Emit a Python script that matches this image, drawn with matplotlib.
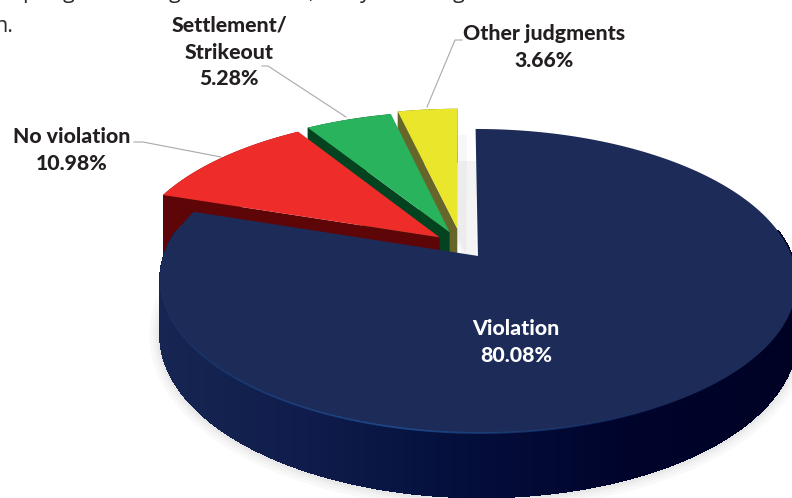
import numpy as np
import matplotlib
matplotlib.use("Agg")
import matplotlib.pyplot as plt
from matplotlib.collections import PolyCollection, LineCollection

labels = ["Violation", "No violation", "Settlement/\nStrikeout", "Other judgments"]
shares = [80.08, 10.98, 5.28, 3.66]

top_colors = ["#1c2b58", "#ee2d2b", "#29b35c", "#e9e62c"]
wall_colors = ["#101d4a", "#5e0508", "#03431f", "#66662a"]

# disc projection, fitted by eye to the picture (pixel units)
CX, CY, A, B, K = 461.4, 245.3, 310.0, 144.4, 0.1626
DEPTH = 53.0
EXPLODE = [0.09, 0.09, 0.10, 0.118]

plt.rcParams["font.family"] = ["Lato", "DejaVu Sans"]
fig = plt.figure(figsize=(7.92, 4.98), dpi=100)
ax = fig.add_axes([0, 0, 1, 1])
ax.set_xlim(0, 792)
ax.set_ylim(498, 0)
ax.axis("off")


def project(u, v, drop=0.0):
    w = 1 - K * v
    return CX + A * u / w, CY + B * v / w + drop * DEPTH / w


def wedge_outline(a0, a1, off, drop=0.0, n=160):
    # clockwise angles from the top, in radians, apex included
    t = np.linspace(a0, a1, n)
    u = np.r_[off[0], off[0] + np.sin(t)]
    v = np.r_[off[1], off[1] - np.cos(t)]
    return np.column_stack(project(u, v, drop))


# cumulative angles, clockwise from 12 o'clock
edges = np.r_[0, np.cumsum(shares)] / np.sum(shares) * 2 * np.pi
mids = (edges[:-1] + edges[1:]) / 2
offsets = [(e * np.sin(m), -e * np.cos(m)) for e, m in zip(EXPLODE, mids)]

# soft shadows
t = np.linspace(np.radians(60), np.radians(300), 300)
sx, sy = project(offsets[0][0] + np.sin(t), offsets[0][1] - np.cos(t), 1.0)
for lw in (16, 11, 7, 4):
    ax.plot(sx, sy + 1, color="black", alpha=0.025, lw=lw, zorder=1, solid_capstyle="round")
ys = wedge_outline(edges[3], edges[4], offsets[3])
ax.fill(ys[:, 0] + 19, ys[:, 1] + 52, color="#000000", alpha=0.045, lw=0, zorder=1)
ax.fill(ys[:, 0] + 9, ys[:, 1] + 26, color="#000000", alpha=0.03, lw=0, zorder=1)

# back slices drawn first: yellow, green, red
for i in (3, 2, 1):
    a0, a1 = edges[i], edges[i + 1]
    off = offsets[i]
    z = 6 - i
    # cut face along the leading edge
    px, py = project(off[0] + np.sin(a0), off[1] - np.cos(a0))
    qx, qy = project(off[0] + np.sin(a0), off[1] - np.cos(a0), 1.2)
    ax0, ay0 = project(off[0], off[1])
    ax1, ay1 = project(off[0], off[1], 1.2)
    ax.fill([ax0, px, qx, ax1], [ay0, py, qy, ay1], color=wall_colors[i], lw=0, zorder=z)
    # outer rim of the slice
    t = np.linspace(a0, a1, 60)
    ox, oy = project(off[0] + np.sin(t), off[1] - np.cos(t))
    bx, by = project(off[0] + np.sin(t), off[1] - np.cos(t), 1.2)
    ax.fill(np.r_[ox, bx[::-1]], np.r_[oy, by[::-1]], color=wall_colors[i], lw=0, zorder=z)
    face = wedge_outline(a0, a1, off)
    ax.fill(face[:, 0], face[:, 1], color=top_colors[i], lw=0, zorder=z)

# big slice: rim strips shaded by horizontal position
off = offsets[0]
t = np.linspace(np.radians(80), np.radians(280), 400)
ox, oy = project(off[0] + np.sin(t), off[1] - np.cos(t))
bx, by = project(off[0] + np.sin(t), off[1] - np.cos(t), 1.0)
stops_x = [160, 300, 430, 620, 792]
stops_rgb = np.array([[0x16, 0x25, 0x52], [0x10, 0x1d, 0x4c], [0x05, 0x11, 0x3e],
                      [0x00, 0x04, 0x2c], [0x00, 0x02, 0x24]]) / 255
strips, strip_colors = [], []
for j in range(len(t) - 1):
    strips.append([(ox[j], oy[j]), (ox[j + 1], oy[j + 1]), (bx[j + 1], by[j + 1]), (bx[j], by[j])])
    xm = (ox[j] + ox[j + 1]) / 2
    strip_colors.append([np.interp(xm, stops_x, stops_rgb[:, c]) for c in range(3)])
ax.add_collection(PolyCollection(strips, facecolors=strip_colors, edgecolors=strip_colors,
                                 lw=1.0, antialiaseds=False, zorder=7))

face = wedge_outline(edges[0], edges[1], off, n=400)
ax.fill(face[:, 0], face[:, 1], color=top_colors[0], lw=0, zorder=8)

# lighter rim line along the front edge
t = np.linspace(np.radians(130), np.radians(282), 200)
hx, hy = project(off[0] + np.sin(t), off[1] - np.cos(t))
segs = [[(hx[j], hy[j]), (hx[j + 1], hy[j + 1])] for j in range(len(t) - 1)]
fade = np.clip(np.interp(hx[:-1], [165, 260, 400, 560, 680], [0.15, 0.55, 0.9, 0.45, 0.0]), 0, 1)
seg_colors = [(0.12, 0.30, 0.56, f) for f in fade]
ax.add_collection(LineCollection(segs, colors=seg_colors, lw=1.3, zorder=9))

# leader lines
leader = dict(color="#a9a9a9", lw=0.8, zorder=9)
ax.plot([134, 143, 221], [142, 142, 157], **leader)
ax.plot([262, 268, 346], [66, 66, 117], **leader)
ax.plot([462, 455, 427], [40, 40, 107], **leader)

# data labels
ink = "#231f20"
lab = dict(fontsize=15.3, fontweight="black", color=ink, ha="center", va="center", zorder=10, linespacing=1.48)
ax.text(72, 150, f"{labels[1]}\n{shares[1]:.2f}%", **lab)
ax.text(229, 52, f"{labels[2]}\n{shares[2]:.2f}%", **lab)
ax.text(544, 47, f"{labels[3]}\n{shares[3]:.2f}%", **lab)
ax.text(516, 342, f"{labels[0]}\n{shares[0]:.2f}%", **{**lab, "color": "white"})

# body text of the page, cut off by the crop
body = dict(fontsize=15.5, color="#2a2a2a", family=["Open Sans", "DejaVu Sans"], zorder=10, clip_on=False)
ax.text(-6, 32, "n.", **body)
for ch, x in [("p", 22), ("g", 63), ("g", 169), (",", 308), ("y", 360), ("g", 453)]:
    ax.text(x, -2, ch, **body)

fig.savefig("out.png", dpi=100)
